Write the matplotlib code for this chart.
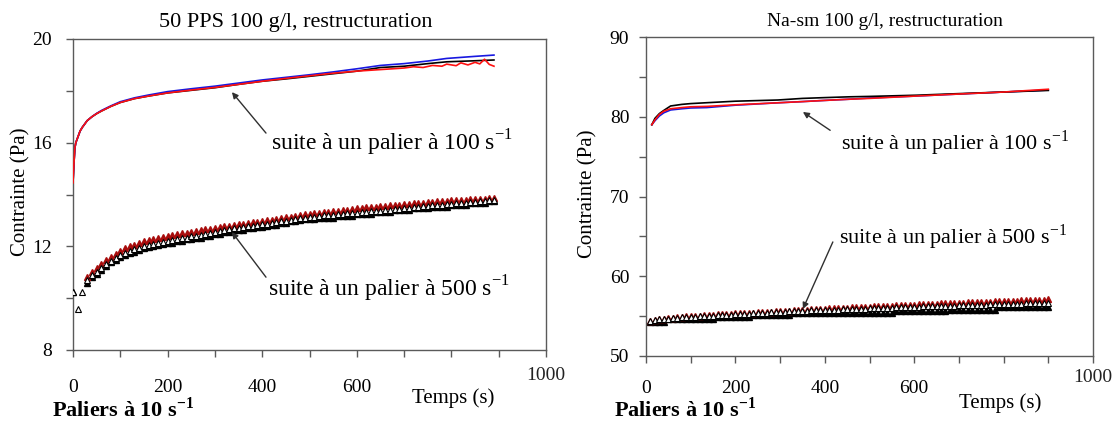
import numpy as np
import matplotlib
matplotlib.use("Agg")
import matplotlib.pyplot as plt
from matplotlib.ticker import MultipleLocator
import matplotlib.transforms as mtransforms

plt.rcParams['font.family'] = ['Liberation Serif', 'DejaVu Serif']
plt.rcParams['mathtext.fontset'] = 'custom'
plt.rcParams['mathtext.rm'] = 'Liberation Serif'

# ---------------------------------------------------------------
# LEFT PANEL : 50 PPS 100 g/l
# ---------------------------------------------------------------

# upper curves (after a plateau at 100 s-1), lines
t_red_L = [0, 2, 4, 6, 10, 15, 20, 30, 40, 50, 60, 80, 100, 130, 160, 200, 250, 300, 350,
           400, 450, 500, 550, 600, 650, 700, 720, 740, 760, 780, 790, 800, 810, 820,
           835, 850, 860, 870, 880, 890]
red_L = [14.45, 15.2, 15.8, 16.0, 16.2, 16.45, 16.6, 16.85, 17.0, 17.12, 17.22, 17.4, 17.55,
         17.7, 17.8, 17.92, 18.03, 18.13, 18.25, 18.37, 18.48, 18.58, 18.68, 18.76, 18.82,
         18.88, 18.93, 18.9, 18.98, 18.95, 19.03, 19.0, 18.97, 19.08, 19.0, 19.1, 19.04,
         19.22, 19.02, 18.95]

t_blue_L = [0, 2, 4, 6, 10, 15, 20, 30, 40, 50, 60, 80, 100, 130, 160, 200, 250, 300, 350,
            400, 450, 500, 550, 600, 650, 700, 750, 790, 850, 890]
blue_L = [14.45, 15.2, 15.8, 16.0, 16.2, 16.45, 16.6, 16.85, 17.0, 17.13, 17.24, 17.42, 17.58,
          17.73, 17.84, 17.97, 18.08, 18.18, 18.3, 18.42, 18.52, 18.62, 18.73, 18.85, 18.98,
          19.05, 19.15, 19.25, 19.33, 19.38]

t_black_L = [0, 2, 4, 6, 10, 15, 20, 30, 40, 50, 60, 80, 100, 130, 160, 200, 250, 300, 350,
             400, 450, 500, 550, 600, 650, 700, 750, 790, 850, 890]
black_L = [14.45, 15.2, 15.8, 16.0, 16.2, 16.45, 16.6, 16.85, 17.0, 17.12, 17.22, 17.4, 17.55,
           17.7, 17.8, 17.92, 18.02, 18.12, 18.25, 18.37, 18.46, 18.56, 18.66, 18.76, 18.9,
           18.95, 19.05, 19.12, 19.16, 19.19]

# lower curves (after a plateau at 500 s-1), triangles every 10 s
t_tri_L = np.arange(0, 900, 10)
open_L = [10.25, 9.60, 10.25, 10.70, 10.88, 11.02, 11.18, 11.33, 11.44, 11.55,
          11.65, 11.74, 11.82, 11.89, 11.95, 12.00, 12.04, 12.08, 12.12, 12.16,
          12.20, 12.24, 12.27, 12.31, 12.34, 12.38, 12.41, 12.44, 12.48, 12.51,
          12.55, 12.58, 12.62, 12.66, 12.69, 12.72, 12.74, 12.77, 12.80, 12.82,
          12.85, 12.88, 12.91, 12.94, 12.96, 12.99, 13.02, 13.05, 13.08, 13.10,
          13.13, 13.15, 13.17, 13.19, 13.21, 13.22, 13.24, 13.26, 13.27, 13.29,
          13.30, 13.32, 13.33, 13.35, 13.37, 13.38, 13.40, 13.42, 13.44, 13.45,
          13.47, 13.49, 13.50, 13.52, 13.54, 13.56, 13.58, 13.59, 13.61, 13.63,
          13.65, 13.66, 13.68, 13.69, 13.71, 13.72, 13.74, 13.75, 13.77, 13.78]
redtri_L = [np.nan, np.nan, np.nan, 10.80, 11.00, 11.15, 11.32, 11.48, 11.60, 11.72,
            11.82, 11.92, 12.00, 12.07, 12.13, 12.19, 12.24, 12.29, 12.33, 12.37,
            12.41, 12.44, 12.47, 12.50, 12.53, 12.56, 12.59, 12.62, 12.65, 12.68,
            12.71, 12.74, 12.77, 12.80, 12.83, 12.85, 12.88, 12.90, 12.93, 12.95,
            12.98, 13.00, 13.03, 13.06, 13.09, 13.12, 13.15, 13.18, 13.21, 13.24,
            13.26, 13.28, 13.30, 13.32, 13.34, 13.36, 13.38, 13.40, 13.42, 13.44,
            13.46, 13.48, 13.50, 13.51, 13.53, 13.55, 13.56, 13.58, 13.60, 13.61,
            13.63, 13.64, 13.66, 13.67, 13.69, 13.70, 13.72, 13.73, 13.74, 13.76,
            13.77, 13.78, 13.79, 13.80, 13.81, 13.82, 13.83, 13.84, 13.85, 13.85]
blacktri_L = [10.25, np.nan, np.nan, 10.60, 10.80, 10.95, 11.10, 11.25, 11.38, 11.48,
              11.58, 11.66, 11.74, 11.80, 11.86, 11.92, 11.96, 12.00, 12.04, 12.08,
              12.12, 12.12, 12.20, 12.20, 12.27, 12.27, 12.34, 12.34, 12.41, 12.41,
              12.48, 12.48, 12.55, 12.55, 12.62, 12.62, 12.62, 12.69, 12.69, 12.76,
              12.76, 12.80, 12.83, 12.83, 12.90, 12.90, 12.97, 12.97, 13.00, 13.04,
              13.04, 13.04, 13.11, 13.11, 13.11, 13.11, 13.18, 13.18, 13.18, 13.18,
              13.25, 13.25, 13.25, 13.25, 13.32, 13.32, 13.32, 13.32, 13.39, 13.39,
              13.39, 13.39, 13.46, 13.46, 13.46, 13.46, 13.53, 13.53, 13.53, 13.53,
              13.60, 13.60, 13.60, 13.60, 13.67, 13.67, 13.67, 13.67, 13.74, 13.74]

# ---------------------------------------------------------------
# RIGHT PANEL : Na-sm 100 g/l
# ---------------------------------------------------------------

t_up_R = [13, 20, 30, 40, 55, 80, 100, 136, 200, 295, 350, 400, 455, 500, 605, 700, 800, 900]
red_R = [79.0, 79.6, 80.3, 80.7, 81.0, 81.15, 81.25, 81.3, 81.5, 81.75, 81.9, 82.05, 82.2,
         82.3, 82.6, 82.85, 83.1, 83.45]
blue_R = [79.0, 79.5, 80.1, 80.5, 80.85, 81.0, 81.1, 81.15, 81.45, 81.75, 81.9, 82.05, 82.2,
          82.35, 82.6, 82.85, 83.1, 83.35]
black_R = [79.0, 79.8, 80.4, 80.8, 81.35, 81.55, 81.65, 81.76, 81.95, 82.1, 82.3, 82.4, 82.5,
           82.55, 82.7, 82.9, 83.1, 83.3]

t_tri_R = np.arange(10, 910, 10)
open_R = [54.40, 54.50, 54.58, 54.64, 54.70, 54.75, 54.80, 54.84, 54.88, 54.92,
          54.95, 54.98, 55.01, 55.04, 55.07, 55.10, 55.13, 55.16, 55.19, 55.22,
          55.25, 55.28, 55.31, 55.34, 55.37, 55.40, 55.43, 55.46, 55.49, 55.52,
          55.55, 55.58, 55.61, 55.64, 55.67, 55.69, 55.71, 55.73, 55.75, 55.77,
          55.79, 55.81, 55.83, 55.85, 55.87, 55.89, 55.91, 55.93, 55.95, 55.97,
          55.99, 56.01, 56.03, 56.05, 56.07, 56.09, 56.11, 56.13, 56.15, 56.17,
          56.19, 56.21, 56.23, 56.25, 56.27, 56.28, 56.30, 56.32, 56.33, 56.35,
          56.37, 56.38, 56.40, 56.42, 56.43, 56.45, 56.47, 56.48, 56.50, 56.52,
          56.53, 56.55, 56.57, 56.58, 56.60, 56.62, 56.63, 56.65, 56.67, 56.68]
redtri_R = [54.45, 54.55, 54.63, 54.70, 54.76, 54.82, 54.87, 54.92, 54.96, 55.00,
            55.04, 55.07, 55.11, 55.14, 55.17, 55.21, 55.24, 55.27, 55.30, 55.33,
            55.36, 55.39, 55.42, 55.45, 55.48, 55.51, 55.54, 55.57, 55.60, 55.63,
            55.66, 55.69, 55.72, 55.75, 55.78, 55.81, 55.84, 55.87, 55.90, 55.93,
            55.96, 55.99, 56.01, 56.04, 56.07, 56.10, 56.12, 56.15, 56.18, 56.20,
            56.23, 56.25, 56.28, 56.30, 56.33, 56.35, 56.38, 56.40, 56.43, 56.45,
            56.48, 56.50, 56.52, 56.55, 56.57, 56.59, 56.62, 56.64, 56.66, 56.68,
            56.70, 56.73, 56.75, 56.77, 56.79, 56.81, 56.83, 56.85, 56.87, 56.89,
            56.91, 56.93, 56.95, 56.97, 56.99, 57.01, 57.03, 57.05, 57.07, 57.09]
blacktri_R = [54.3, 54.3, 54.3, 54.3,
              54.6, 54.6, 54.6, 54.6, 54.6, 54.6, 54.6, 54.6, 54.6, 54.6, 54.6,
              54.9, 54.9, 54.9, 54.9, 54.9, 54.9, 54.9, 54.9,
              55.1, 55.1, 55.1, 55.1, 55.1, 55.1, 55.1, 55.1, 55.1,
              55.4, 55.4, 55.4, 55.4, 55.4, 55.4, 55.4, 55.4, 55.4, 55.4, 55.4, 55.4,
              55.4, 55.4, 55.4, 55.4, 55.4, 55.4, 55.4, 55.4, 55.4, 55.4, 55.4,
              55.6, 55.6, 55.6, 55.6, 55.6, 55.6, 55.6, 55.6, 55.6, 55.6, 55.6, 55.6,
              55.8, 55.8, 55.8, 55.8, 55.8, 55.8, 55.8, 55.8, 55.8, 55.8, 55.8,
              56.1, 56.1, 56.1, 56.1, 56.1, 56.1, 56.1, 56.1, 56.1, 56.1, 56.1, 56.1]

x_ticks = [0, 200, 400, 600, 800, 1000]
x_ticklabels = ['0', '200', '400', '600', '', '']

RED = '#ff1010'
BLUE = '#1818e0'
DARKRED = '#a80c0c'
AXCOL = '#5a5a5a'
SUP = r'$^{\mathregular{-1}}$'


def style_axes(ax, ylim, ymajor, xpad, ypad):
    ax.set_xlim(0, 1000)
    ax.set_ylim(*ylim)
    ax.set_xticks(x_ticks)
    ax.set_xticklabels(x_ticklabels)
    ax.xaxis.set_minor_locator(MultipleLocator(100))
    ax.yaxis.set_major_locator(MultipleLocator(ymajor))
    ax.yaxis.set_minor_locator(MultipleLocator(ymajor / 2))
    for s in ax.spines.values():
        s.set_color(AXCOL)
        s.set_linewidth(1.0)
    ax.tick_params(axis='x', which='both', direction='out', length=5, width=1,
                   color=AXCOL, labelsize=14, pad=xpad)
    ax.tick_params(axis='y', which='both', direction='out', length=5, width=1,
                   color=AXCOL, labelsize=14, pad=ypad)


def draw_triangles(ax, t, black, red, opn):
    ax.plot(t, black, ls='none', marker='^', ms=4.5, color='black', mec='black', zorder=3)
    ax.plot(t, red, ls='none', marker='^', ms=4.5, color=DARKRED, mec=DARKRED, zorder=4)
    ax.plot(t, opn, ls='none', marker='^', ms=4.5, mfc='white', mec='black', mew=0.8, zorder=5)


def add_note(ax, head, tail, pos, text, size):
    ax.annotate('', xy=head, xytext=tail,
                arrowprops=dict(arrowstyle='-|>', color='#303030', lw=1.0,
                                mutation_scale=9, shrinkA=0, shrinkB=0), zorder=6)
    ax.text(pos[0], pos[1], text, fontsize=size, ha='left', va='center', zorder=7)


fig = plt.figure(figsize=(11.2, 4.25), dpi=100)

axL = fig.add_axes([73 / 1120, 1 - 350 / 425, (546 - 73) / 1120, (350 - 39) / 425])
axR = fig.add_axes([646 / 1120, 1 - 356 / 425, (1093 - 646) / 1120, (356 - 37) / 425])

# left
style_axes(axL, (8, 20), 4, 16, 10)
axL.plot(t_black_L, black_L, color='black', lw=1.2, zorder=2)
axL.plot(t_blue_L, blue_L, color=BLUE, lw=1.2, zorder=2)
axL.plot(t_red_L, red_L, color=RED, lw=1.2, zorder=3)
draw_triangles(axL, t_tri_L, blacktri_L, redtri_L, open_L)
add_note(axL, (336, 17.95), (408, 16.37), (418, 15.98), 'suite à un palier à 100 s' + SUP, 17)
add_note(axL, (336, 12.55), (408, 10.81), (412, 10.36), 'suite à un palier à 500 s' + SUP, 17)

# right
style_axes(axR, (50, 90), 10, 12, 7)
axR.plot(t_up_R, blue_R, color=BLUE, lw=1.2, zorder=2)
axR.plot(t_up_R, black_R, color='black', lw=1.2, zorder=2)
axR.plot(t_up_R, red_R, color=RED, lw=1.2, zorder=3)
draw_triangles(axR, t_tri_R, blacktri_R, redtri_R, open_R)
add_note(axR, (351, 80.6), (412, 78.3), (436, 76.7), 'suite à un palier à 100 s' + SUP, 16)
add_note(axR, (351, 55.9), (418, 64.3), (432, 64.9), 'suite à un palier à 500 s' + SUP, 16)

# raised "1000" labels, like the original sheet
for ax, ypix in ((axL, 375), (axR, 378)):
    tr = mtransforms.blended_transform_factory(ax.transData, fig.transFigure)
    ax.text(1000, 1 - ypix / 425, '1000', transform=tr, fontsize=14,
            ha='center', va='center', color='#222222')

# titles / labels in figure pixels
def ftext(x, y, s, **kw):
    fig.text(x / 1120, 1 - y / 425, s, **kw)

ftext(296, 23, '50 PPS 100 g/l, restructuration', fontsize=16, ha='center', va='center')
ftext(885, 22, 'Na-sm 100 g/l, restructuration', fontsize=14, ha='center', va='center')
ftext(21, 192, 'Contrainte (Pa)', fontsize=15, rotation=90, ha='center', va='center')
ftext(588, 194, 'Contrainte (Pa)', fontsize=15, rotation=90, ha='center', va='center')
ftext(453, 398, 'Temps (s)', fontsize=15, ha='center', va='center')
ftext(1000, 403, 'Temps (s)', fontsize=15, ha='center', va='center')
ftext(52, 410, 'Paliers à 10 s' + SUP, fontsize=16, fontweight='bold', ha='left', va='center')
ftext(614, 409, 'Paliers à 10 s' + SUP, fontsize=16, fontweight='bold', ha='left', va='center')

fig.savefig('out.png', dpi=100)
